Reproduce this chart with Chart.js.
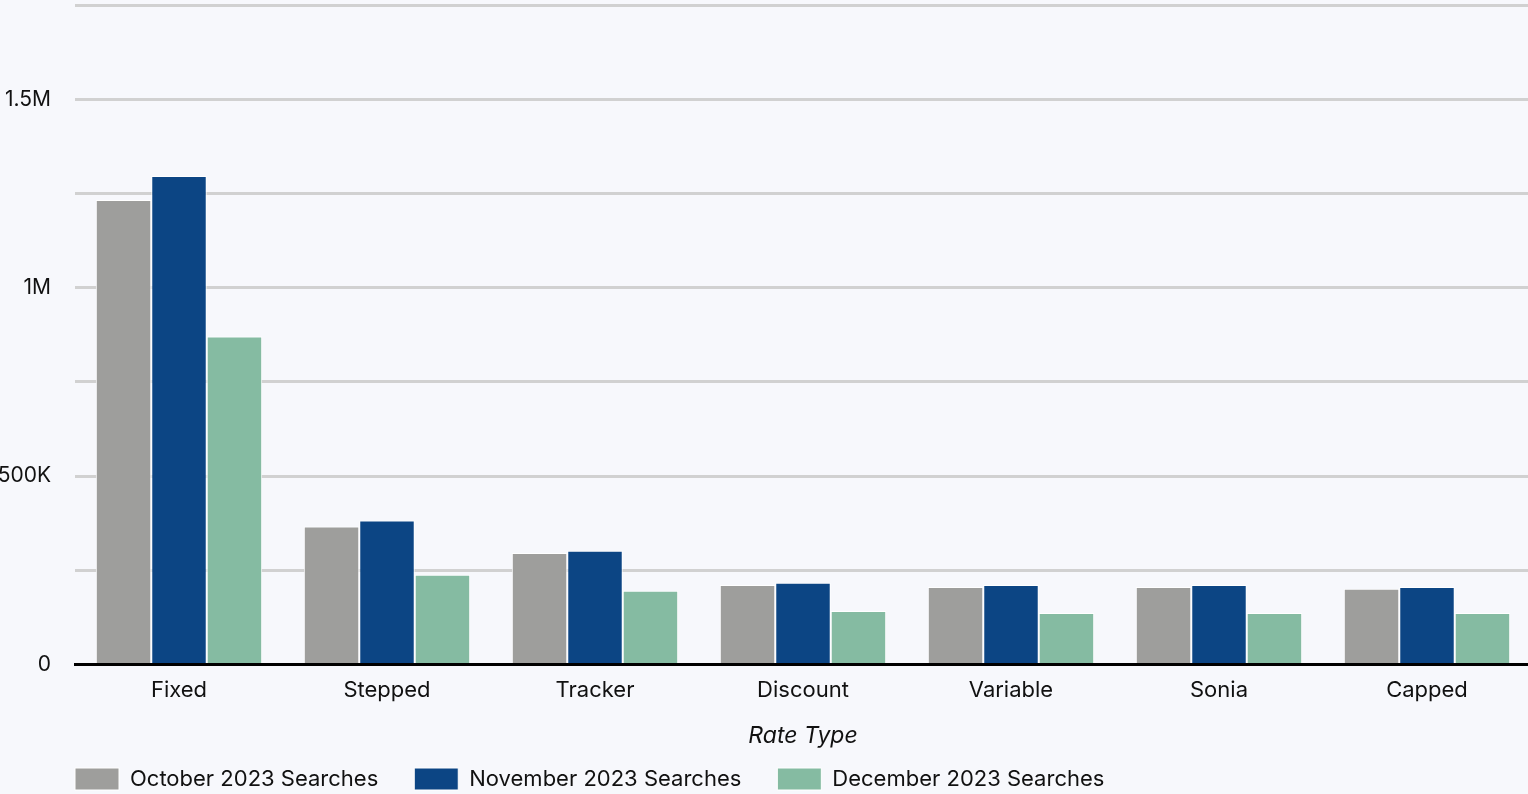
<!DOCTYPE html>
<html>
<head>
<meta charset="utf-8">
<script src="https://cdn.jsdelivr.net/npm/chart.js@4"></script>
<style>
  html, body { margin: 0; padding: 0; background: #f7f8fc; overflow: hidden; }
  #wrap { position: relative; width: 1531px; height: 794px; }
</style>
</head>
<body>
<div id="wrap"><canvas id="rateChart"></canvas></div>
<script>
const categories = ['Fixed', 'Stepped', 'Tracker', 'Discount', 'Variable', 'Sonia', 'Capped'];
const octSearches = [1233000, 366000, 296000, 211000, 206000, 206000, 201000];
const novSearches = [1297000, 382000, 302000, 217000, 211000, 211000, 206000];
const decSearches = [871000, 238000, 196000, 142000, 137000, 137000, 137000];
const seriesNames = ['October 2023 Searches', 'November 2023 Searches', 'December 2023 Searches'];

const FONT = 'Inter, "Noto Sans", sans-serif';
const textColor = '#111';

// move the legend under the plot and keep it from squeezing the chart area
const legendFix = {
  id: 'legendFix',
  beforeLayout(chart) {
    const lg = chart.legend;
    if (lg && !lg._patched) {
      const fit = lg.fit;
      lg.fit = function () { fit.call(this); this.height = 44; };
      lg._patched = true;
    }
  },
  afterLayout(chart) {
    const lg = chart.legend;
    lg.left = chart.chartArea.left - 36;
    lg.top = 732;
    lg.bottom = lg.top + 62;
  }
};

const ctx = document.getElementById('rateChart').getContext('2d');

new Chart(ctx, {
  type: 'bar',
  data: {
    labels: categories,
    datasets: [
      { label: seriesNames[0], data: octSearches, backgroundColor: '#9e9e9c' },
      { label: seriesNames[1], data: novSearches, backgroundColor: '#0c4584' },
      { label: seriesNames[2], data: decSearches, backgroundColor: '#85bba2' }
    ]
  },
  options: {
    responsive: true,
    maintainAspectRatio: false,
    animation: false,
    datasets: {
      bar: {
        categoryPercentage: 0.8,
        barPercentage: 1,
        borderColor: '#ffffff',
        borderWidth: 1
      }
    },
    layout: { padding: { top: 5, right: 0, left: 0, bottom: 0 } },
    plugins: {
      legend: {
        position: 'bottom',
        align: 'start',
        labels: {
          boxWidth: 44,
          boxHeight: 22,
          padding: 36,
          color: textColor,
          font: { family: FONT, size: 22 }
        }
      },
      tooltip: { enabled: false }
    },
    scales: {
      x: {
        grid: { display: false },
        border: { display: true, color: '#000', width: 3 },
        ticks: {
          color: textColor,
          padding: 5,
          font: { family: FONT, size: 22 }
        },
        title: {
          display: true,
          text: 'Rate Type',
          color: textColor,
          padding: { top: 13.5, bottom: 0 },
          font: { family: FONT, size: 23, style: 'italic' }
        }
      },
      y: {
        min: 0,
        max: 1750000,
        afterFit(scale) { scale.width = 75; },
        border: { display: false },
        grid: {
          color: '#d1d1d1',
          lineWidth: 3,
          drawTicks: true,
          tickLength: 24,
          tickColor: 'rgba(0,0,0,0)'
        },
        ticks: {
          stepSize: 250000,
          padding: 0,
          color: textColor,
          font: { family: FONT, size: 21, lineHeight: 0.5 },
          callback(v) {
            if (v === 0) return '0';
            if (v % 500000 !== 0) return '';
            return v >= 1000000 ? (v / 1000000) + 'M' : (v / 1000) + 'K';
          }
        }
      }
    }
  },
  plugins: [legendFix]
});
</script>
</body>
</html>
